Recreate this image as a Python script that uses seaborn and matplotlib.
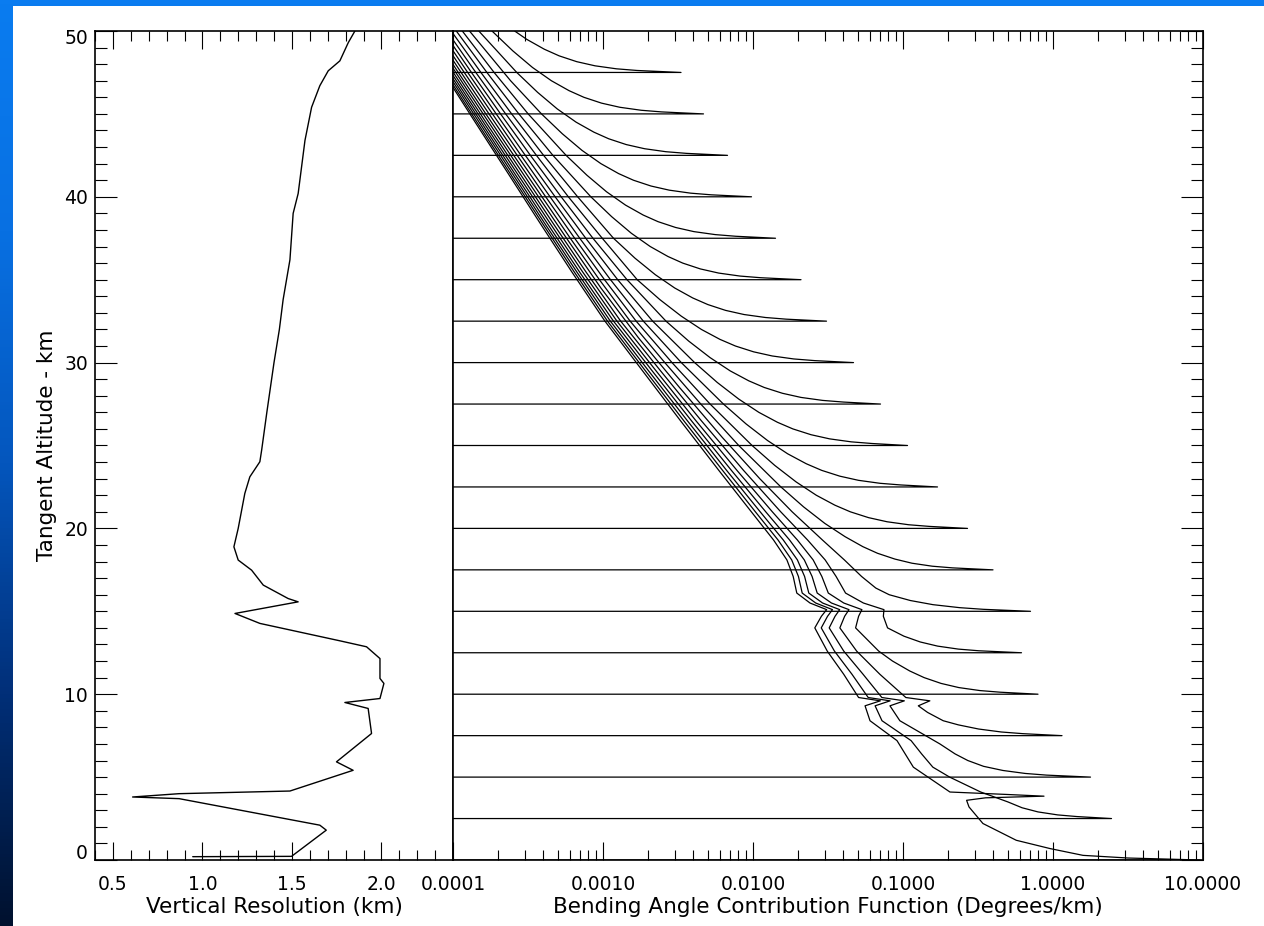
import numpy as np
import pandas as pd
import matplotlib
matplotlib.use("Agg")
import matplotlib.pyplot as plt
from matplotlib.patches import Rectangle
from matplotlib.colors import LinearSegmentedColormap
from matplotlib.transforms import ScaledTranslation
from matplotlib.ticker import FixedLocator, FixedFormatter, MultipleLocator, LogLocator, NullFormatter
import seaborn as sns

# ---- Vertical resolution profile (left panel) ----
res_alt = [0.20, 0.22, 1.80, 2.10, 3.70, 3.80, 4.00, 4.16, 5.41, 5.92, 7.63, 9.14, 9.50,
           9.74, 10.65, 10.95, 12.15, 12.86, 13.22, 14.27, 14.87, 15.57, 15.77, 16.58,
           17.48, 18.09, 18.89, 20.00, 22.11, 23.11, 24.02, 24.72, 27.0, 30.0, 32.0, 33.8,
           36.2, 39.0, 40.2, 41.8, 43.4, 45.4, 46.7, 47.6, 48.2, 49.3, 50.0]
res_km = [0.946, 1.498, 1.692, 1.656, 0.87, 0.61, 0.87, 1.489, 1.842, 1.749, 1.945, 1.926,
          1.796, 1.992, 2.014, 1.992, 1.992, 1.917, 1.768, 1.321, 1.182, 1.535, 1.479, 1.34,
          1.275, 1.20, 1.176, 1.20, 1.237, 1.265, 1.321, 1.331, 1.36, 1.40, 1.43, 1.451,
          1.489, 1.507, 1.535, 1.554, 1.573, 1.61, 1.656, 1.703, 1.768, 1.815, 1.852]

# ---- Bending angle contribution functions (right panel) ----
# one curve per tangent altitude; values are log10(degrees/km)
tangent_alt = [0.0, 2.5, 5.0, 7.5, 10.0, 12.5, 15.0, 17.5, 20.0, 22.5,
               25.0, 27.5, 30.0, 32.5, 35.0, 37.5, 40.0, 42.5, 45.0, 47.5]
peak_log = [0.98, 0.39, 0.25, 0.06, -0.10, -0.21, -0.15, -0.40, -0.57, -0.77,
            -0.97, -1.15, -1.33, -1.51, -1.68, -1.85, -2.01, -2.17, -2.33, -2.48]

curve_alt = [
    [0.12, 0.28, 0.69, 1.19, 2.2, 3.2, 3.6, 3.75, 3.85, 3.95, 4.1, 5.6, 7.2, 8.4, 9.3, 9.6, 9.8,
     11.2, 12.6, 14.0, 14.7, 15.1, 15.5, 16.1, 17.1, 18.1, 19.3, 21, 23.5, 26.5, 29.5, 32.5,
     35.5, 38.5, 41.5, 44.5, 47.5, 50],
    [2.62, 2.72, 2.9, 3.15, 3.5, 3.9, 4.1, 5.0, 5.6, 6.4, 7.2, 8.4, 9.3, 9.6, 9.8, 11.2, 12.6,
     14.0, 14.7, 15.1, 15.5, 16.1, 17.1, 18.1, 19.3, 21, 23.5, 26.5, 29.5, 32.5, 35.5, 38.5,
     41.5, 44.5, 47.5, 50],
    [5.12, 5.22, 5.4, 5.65, 6.0, 6.4, 7.0, 8.4, 9.3, 9.6, 9.8, 11.2, 12.6, 14.0, 14.7, 15.1,
     15.5, 16.1, 17.1, 18.1, 19.3, 21, 23.5, 26.5, 29.5, 32.5, 35.5, 38.5, 41.5, 44.5, 47.5, 50],
    [7.62, 7.72, 7.9, 8.15, 8.4, 8.9, 9.3, 9.6, 9.8, 11.2, 12.6, 14.0, 14.7, 15.1, 15.5, 16.1,
     17.1, 18.1, 19.3, 21, 23.5, 26.5, 29.5, 32.5, 35.5, 38.5, 41.5, 44.5, 47.5, 50],
    [10.12, 10.22, 10.4, 10.65, 11.0, 11.4, 12.0, 12.6, 14.0, 14.7, 15.1, 15.5, 16.1, 17.1,
     18.1, 19.3, 21, 23.5, 26.5, 29.5, 32.5, 35.5, 38.5, 41.5, 44.5, 47.5, 50],
    [12.62, 12.72, 12.9, 13.15, 13.5, 14.0, 14.7, 15.1, 15.5, 16.1, 17.1, 18.1, 19.3, 21, 23.5,
     26.5, 29.5, 32.5, 35.5, 38.5, 41.5, 44.5, 47.5, 50],
    [15.12, 15.22, 15.4, 15.65, 16.0, 16.4, 17.1, 18.1, 19.3, 21, 23, 25.5, 28.5, 31.5, 34.5,
     37.5, 40.5, 43.5, 46.5, 50],
    [17.62, 17.72, 17.9, 18.15, 18.5, 18.9, 19.5, 20.3, 21.3, 22.5, 25, 27.5, 30, 32.5, 35,
     37.5, 40, 42.5, 45, 47.5, 50],
    [20.12, 20.22, 20.4, 20.65, 21, 21.4, 22, 22.8, 23.8, 25, 27.5, 30, 32.5, 35, 37.5, 40,
     42.5, 45, 47.5, 50],
    [22.62, 22.72, 22.9, 23.15, 23.5, 23.9, 24.5, 25.3, 26.3, 27.5, 30, 32.5, 35, 37.5, 40,
     42.5, 45, 47.5, 50],
    [25.12, 25.22, 25.4, 25.65, 26, 26.4, 27, 27.8, 28.8, 30, 32.5, 35, 37.5, 40, 42.5, 45,
     47.5, 50],
    [27.62, 27.72, 27.9, 28.15, 28.5, 28.9, 29.5, 30.3, 31.3, 32.5, 35, 37.5, 40, 42.5, 45,
     47.5, 50],
    [30.12, 30.22, 30.4, 30.65, 31, 31.4, 32, 32.8, 33.8, 35, 37.5, 40, 42.5, 45, 47.5, 50],
    [32.62, 32.72, 32.9, 33.15, 33.5, 33.9, 34.5, 35.3, 36.3, 37.5, 40, 42.5, 45, 47.5, 50],
    [35.12, 35.22, 35.4, 35.65, 36, 36.4, 37, 37.8, 38.8, 40, 42.5, 45, 47.5, 50],
    [37.62, 37.72, 37.9, 38.15, 38.5, 38.9, 39.5, 40.3, 41.3, 42.5, 45, 47.5, 50],
    [40.12, 40.22, 40.4, 40.65, 41, 41.4, 42, 42.8, 43.8, 45, 47, 50],
    [42.62, 42.72, 42.9, 43.15, 43.5, 43.9, 44.5, 45.3, 46.3, 47.5, 50],
    [45.12, 45.22, 45.4, 45.65, 46, 46.4, 47, 47.8, 48.8, 50],
    [47.62, 47.72, 47.9, 48.15, 48.5, 48.9, 49.5, 50],
]
curve_log = [
    [0.5, 0.2, -0.02, -0.245, -0.467, -0.56, -0.576, -0.45, -0.06, -0.3, -0.687, -0.931, -1.04,
     -1.22, -1.253, -1.151, -1.296, -1.395, -1.505, -1.588, -1.544, -1.509, -1.62, -1.708,
     -1.732, -1.774, -1.863, -2.011, -2.228, -2.484, -2.736, -2.987, -3.21, -3.426, -3.639,
     -3.852, -4.064, -4.239],
    [0.16, 0.031, -0.10, -0.206, -0.30, -0.421, -0.482, -0.689, -0.801, -0.876, -0.946, -1.14,
     -1.186, -1.086, -1.232, -1.34, -1.457, -1.545, -1.503, -1.47, -1.582, -1.672, -1.697,
     -1.742, -1.833, -1.984, -2.203, -2.462, -2.717, -2.97, -3.194, -3.411, -3.626, -3.84,
     -4.053, -4.228],
    [-0.043, -0.185, -0.334, -0.463, -0.568, -0.653, -0.754, -1.021, -1.087, -0.991, -1.141,
     -1.266, -1.395, -1.492, -1.453, -1.422, -1.536, -1.628, -1.656, -1.704, -1.798, -1.952,
     -2.176, -2.438, -2.696, -2.951, -3.177, -3.396, -3.611, -3.826, -4.04, -4.217],
    [-0.201, -0.344, -0.496, -0.631, -0.732, -0.836, -0.898, -0.821, -0.981, -1.154, -1.309,
     -1.421, -1.389, -1.36, -1.477, -1.572, -1.606, -1.658, -1.756, -1.915, -2.144, -2.411,
     -2.672, -2.93, -3.159, -3.379, -3.596, -3.812, -4.027, -4.204],
    [-0.351, -0.488, -0.628, -0.746, -0.859, -0.955, -1.07, -1.162, -1.316, -1.296, -1.274,
     -1.395, -1.498, -1.541, -1.599, -1.704, -1.871, -2.107, -2.381, -2.646, -2.907, -3.138,
     -3.36, -3.579, -3.797, -4.013, -4.191],
    [-0.496, -0.631, -0.769, -0.885, -0.994, -1.103, -1.131, -1.127, -1.264, -1.383, -1.446,
     -1.519, -1.636, -1.815, -2.063, -2.345, -2.616, -2.882, -3.116, -3.34, -3.561, -3.781,
     -3.998, -4.177],
    [-0.465, -0.623, -0.80, -0.951, -1.092, -1.181, -1.276, -1.391, -1.537, -1.739, -1.955,
     -2.206, -2.49, -2.764, -3.014, -3.243, -3.467, -3.689, -3.909, -4.162],
    [-0.671, -0.805, -0.94, -1.054, -1.17, -1.268, -1.386, -1.521, -1.663, -1.814, -2.095,
     -2.348, -2.588, -2.819, -3.024, -3.218, -3.407, -3.595, -3.781, -3.965, -4.146],
    [-0.823, -0.962, -1.106, -1.23, -1.351, -1.454, -1.578, -1.712, -1.855, -2.006, -2.286,
     -2.54, -2.779, -2.99, -3.189, -3.382, -3.572, -3.76, -3.946, -4.129],
    [-1.014, -1.153, -1.297, -1.421, -1.542, -1.645, -1.769, -1.903, -2.046, -2.197, -2.478,
     -2.731, -2.95, -3.155, -3.353, -3.547, -3.737, -3.925, -4.11],
    [-1.206, -1.345, -1.489, -1.613, -1.734, -1.837, -1.961, -2.095, -2.238, -2.389, -2.669,
     -2.902, -3.115, -3.319, -3.518, -3.712, -3.902, -4.089],
    [-1.397, -1.536, -1.68, -1.804, -1.925, -2.028, -2.152, -2.286, -2.429, -2.58, -2.84,
     -3.067, -3.279, -3.484, -3.683, -3.877, -4.066],
    [-1.589, -1.728, -1.872, -1.996, -2.117, -2.22, -2.344, -2.478, -2.621, -2.772, -3.005,
     -3.231, -3.444, -3.649, -3.848, -4.041],
    [-1.779, -1.917, -2.06, -2.183, -2.301, -2.402, -2.522, -2.651, -2.787, -2.93, -3.169,
     -3.396, -3.609, -3.814, -4.012],
    [-1.95, -2.087, -2.229, -2.351, -2.468, -2.567, -2.685, -2.811, -2.942, -3.081, -3.334,
     -3.561, -3.774, -3.978],
    [-2.115, -2.252, -2.394, -2.516, -2.633, -2.732, -2.85, -2.976, -3.107, -3.246, -3.499,
     -3.726, -3.938],
    [-2.279, -2.416, -2.558, -2.68, -2.797, -2.896, -3.014, -3.14, -3.271, -3.41, -3.616, -3.89],
    [-2.444, -2.581, -2.723, -2.845, -2.962, -3.061, -3.179, -3.305, -3.436, -3.575, -3.828],
    [-2.609, -2.746, -2.888, -3.01, -3.127, -3.226, -3.344, -3.47, -3.601, -3.74],
    [-2.774, -2.911, -3.053, -3.175, -3.292, -3.391, -3.509, -3.589],
]

res_ticks = [0.5, 1.0, 1.5, 2.0]
res_labels = ["0.5", "1.0", "1.5", "2.0"]
alt_ticks = [0, 10, 20, 30, 40, 50]
alt_labels = ["0", "10", "20", "30", "40", "50"]
bend_ticks = [1e-4, 1e-3, 1e-2, 1e-1, 1e0, 1e1]
bend_labels = ["0.0001", "0.0010", "0.0100", "0.1000", "1.0000", "10.0000"]
X_MIN, X_MAX = 1e-4, 10.0

# ---- table for seaborn ----
frames = []
for i, h in enumerate(tangent_alt):
    vals = [X_MIN, 10.0 ** peak_log[i]] + [10.0 ** v for v in curve_log[i]]
    alts = [h, h] + list(curve_alt[i])
    frames.append(pd.DataFrame({"curve": i, "value": vals, "altitude": alts}))
bend_df = pd.concat(frames, ignore_index=True)
res_df = pd.DataFrame({"resolution": res_km, "altitude": res_alt})

# ---- style ----
sns.set_style("ticks")
plt.rcParams["font.family"] = ["DejaVu Sans"]
plt.rcParams["axes.linewidth"] = 1.2
plt.rcParams["axes.edgecolor"] = "black"
plt.rcParams["axes.labelcolor"] = "black"
plt.rcParams["text.color"] = "black"
plt.rcParams["xtick.color"] = "black"
plt.rcParams["ytick.color"] = "black"
plt.rcParams["xtick.labelcolor"] = "black"
plt.rcParams["ytick.labelcolor"] = "black"

fig = plt.figure(figsize=(12.64, 9.26), dpi=100)

# blue slide frame with white panel
bg = fig.add_axes([0, 0, 1, 1], zorder=-10)
frame_cmap = LinearSegmentedColormap.from_list(
    "frame", ["#0a7cf0", "#0870e2", "#0456bd", "#012f78", "#00112e"])
bg.imshow(np.linspace(0, 1, 256).reshape(-1, 1), aspect="auto", cmap=frame_cmap,
          extent=[0, 1264, 926, 0])
bg.add_patch(Rectangle((13, 6), 1264 - 13, 926 - 6, facecolor="white", edgecolor="none"))
bg.set_xlim(0, 1264)
bg.set_ylim(926, 0)
bg.axis("off")

ax1 = fig.add_axes([95 / 1264, 66 / 926, 358 / 1264, 829 / 926])
ax2 = fig.add_axes([453 / 1264, 66 / 926, 750 / 1264, 829 / 926])

TICK_FS = 13.5
LABEL_FS = 15.5

# left panel: vertical resolution
sns.lineplot(data=res_df, x="resolution", y="altitude", sort=False, estimator=None,
             color="black", lw=1.0, ax=ax1)
ax1.set_xlim(0.4, 2.4)
ax1.set_ylim(0, 50)
ax1.xaxis.set_major_locator(FixedLocator(res_ticks))
ax1.xaxis.set_major_formatter(FixedFormatter(res_labels))
ax1.xaxis.set_minor_locator(MultipleLocator(0.1))
ax1.yaxis.set_major_locator(FixedLocator(alt_ticks))
ax1.yaxis.set_major_formatter(FixedFormatter(alt_labels))
ax1.yaxis.set_minor_locator(MultipleLocator(1))
ax1.tick_params(which="both", direction="in", top=True, bottom=True, left=True, right=False,
                width=0.8, labelsize=TICK_FS, colors="black")
ax1.tick_params(axis="x", which="major", length=13, pad=11)
ax1.tick_params(axis="x", which="minor", length=7)
ax1.tick_params(axis="y", which="major", length=16, pad=5)
ax1.tick_params(axis="y", which="minor", length=8.5)
ax1.set_xlabel("Vertical Resolution (km)", fontsize=LABEL_FS, labelpad=2, color="black")
ax1.set_ylabel("Tangent Altitude - km", fontsize=LABEL_FS, labelpad=5, color="black")

# right panel: bending angle contribution functions
ax2.set_xscale("log")
sns.lineplot(data=bend_df, x="value", y="altitude", units="curve", estimator=None,
             sort=False, color="black", lw=0.9, legend=False, ax=ax2)
ax2.set_xlim(X_MIN, X_MAX)
ax2.set_ylim(0, 50)
ax2.xaxis.set_major_locator(FixedLocator(bend_ticks))
ax2.xaxis.set_major_formatter(FixedFormatter(bend_labels))
ax2.xaxis.set_minor_locator(LogLocator(base=10, subs=np.arange(2, 10)))
ax2.xaxis.set_minor_formatter(NullFormatter())
ax2.yaxis.set_major_locator(FixedLocator(alt_ticks))
ax2.yaxis.set_minor_locator(MultipleLocator(1))
ax2.tick_params(which="both", direction="in", top=True, bottom=True, left=False, right=True,
                labelleft=False, labelright=False, width=0.8, labelsize=TICK_FS, colors="black")
ax2.tick_params(axis="x", which="major", length=13, pad=11)
ax2.tick_params(axis="x", which="minor", length=7)
ax2.tick_params(axis="y", which="major", length=16)
ax2.tick_params(axis="y", which="minor", length=8.5)
ax2.set_xlabel("Bending Angle Contribution Function (Degrees/km)", fontsize=LABEL_FS,
               labelpad=2, color="black")
ax2.set_ylabel("")

for ax in (ax1, ax2):
    ax.set_facecolor("white")
    for s in ax.spines.values():
        s.set_visible(True)
        s.set_linewidth(1.2)
        s.set_color("black")

# end labels of the altitude axis sit just inside the frame
yt = ax1.yaxis.get_major_ticks()
yt[0].label1.set_transform(yt[0].label1.get_transform()
                           + ScaledTranslation(0, 6 / 72, fig.dpi_scale_trans))
yt[-1].label1.set_transform(yt[-1].label1.get_transform()
                            + ScaledTranslation(0, -4 / 72, fig.dpi_scale_trans))

fig.savefig("out.png", dpi=100)
